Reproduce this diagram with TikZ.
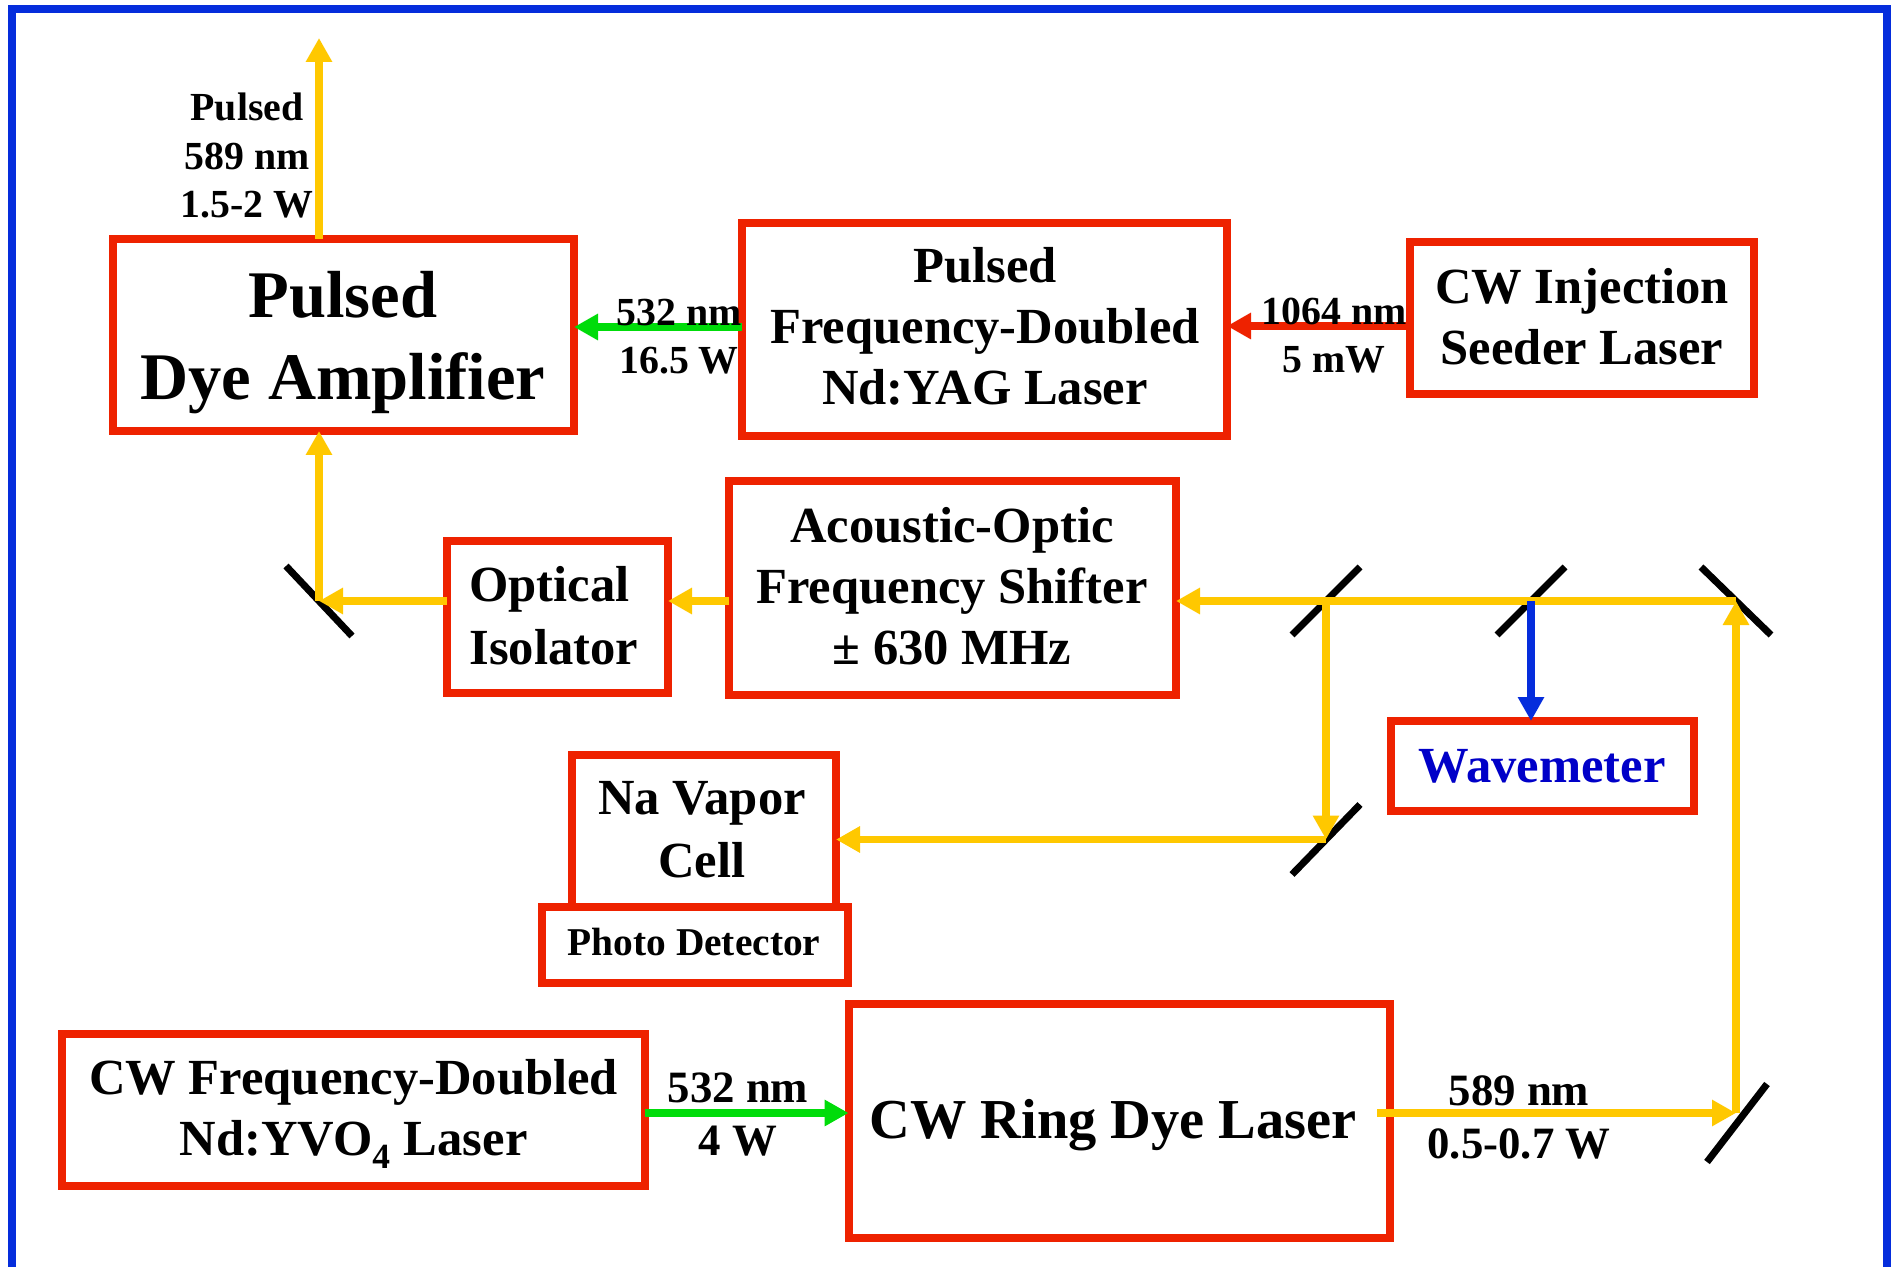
\documentclass[tikz,border=0pt]{standalone}
\usepackage{fontspec}
\setmainfont{Liberation Serif}
\usetikzlibrary{arrows.meta}
\definecolor{bxred}{RGB}{238,34,0}
\definecolor{bmyel}{RGB}{255,200,0}
\definecolor{bmgrn}{RGB}{0,220,10}
\definecolor{bdblue}{RGB}{5,45,220}
\definecolor{wmblue}{RGB}{0,0,200}
\begin{document}
\begin{tikzpicture}[x=0.5pt,y=-0.5pt,
  box/.style={draw=bxred, line width=4pt, inner sep=0pt, outer sep=0pt, rectangle},
  beam/.style={line width=3.75pt, -{Triangle[length=12pt,width=12.5pt]}},
  ya/.style={beam, bmyel},
  ga/.style={beam, bmgrn},
  ra/.style={beam, bxred},
  ba/.style={beam, bdblue},
  mirror/.style={line width=3.5pt, black},
  bt/.style={font=\fontsize{25.3}{30.5}\selectfont\bfseries, align=center, anchor=base, inner sep=0pt},
  lbl/.style={font=\fontsize{19.9}{24.1}\selectfont\bfseries, align=center, anchor=base, inner sep=0pt},
  lblb/.style={lbl, font=\fontsize{22.4}{26.2}\selectfont\bfseries},
]
\useasboundingbox (0,0) rectangle (1891,1267);
\fill[white] (0,0) rectangle (1891,1267);
\draw[bdblue, line width=4pt] (12,1290) -- (12,8.7) -- (1887,8.7) -- (1887,1290);

% boxes
\node[box, minimum width=230.5pt, minimum height=96pt] (pda) at (343.5,335) {};
\node[box, minimum width=242.5pt, minimum height=106.5pt] (yag) at (984.5,329.5) {};
\node[box, minimum width=172pt, minimum height=76pt] (seed) at (1582,318) {};
\node[box, minimum width=110.5pt, minimum height=75.75pt] (oi) at (557.5,616.75) {};
\node[box, minimum width=223.5pt, minimum height=106.5pt] (ao) at (952.5,588) {};
\node[box, minimum width=151.5pt, minimum height=45pt] (wm) at (1542.5,766) {};
\node[box, minimum width=132pt, minimum height=76pt] (na) at (704,830.5) {};
\node[box, minimum width=153.25pt, minimum height=38pt] (pd) at (694.75,944.5) {};
\node[box, minimum width=291.9pt, minimum height=76pt] (yvo) at (353.4,1110) {};
\node[box, minimum width=270.7pt, minimum height=116.75pt] (ring) at (1119.3,1120.75) {};

% box texts (anchor base = baseline of the last line)
\node[bt, font=\fontsize{33.3}{41}\selectfont\bfseries] (pdat) at (343,400) {Pulsed\\Dye Amplifier};
\node[bt] (yagt) at (985,405) {Pulsed\\Frequency-Doubled\\Nd:YAG Laser};
\node[bt] (seedt) at (1582,365) {CW Injection\\Seeder Laser};
\node[bt, align=left, anchor=base west, font=\fontsize{25.3}{31.2}\selectfont\bfseries] (oit) at (469,664) {Optical\\Isolator};
\node[bt] (aot) at (952,664) {Acoustic-Optic\\Frequency Shifter\\± 630 MHz};
\node[bt, text=wmblue] (wmt) at (1542,782) {Wavemeter};
\node[bt, font=\fontsize{25.3}{31.2}\selectfont\bfseries] (nat) at (702,877.3) {Na Vapor\\Cell};
\node[bt, font=\fontsize{19.7}{24}\selectfont\bfseries] (pdt) at (694,955) {Photo Detector};
\node[bt] (yvot) at (353.5,1155.7) {CW Frequency-Doubled\\Nd:YVO\raisebox{-0.25ex}{\textsubscript{4}} Laser};
\node[bt, font=\fontsize{28.2}{34}\selectfont\bfseries] (ringt) at (1113,1138.3) {CW Ring Dye Laser};

% mirrors
\coordinate (m1) at (319,601);
\coordinate (m2) at (1326,601);
\coordinate (m3) at (1531,601);
\coordinate (m4) at (1736,601);
\coordinate (m5) at (1326,839.5);
\coordinate (m6) at (1736,1113);
\draw[mirror] ([shift={(-33,-35)}]m1) -- ([shift={(33,35)}]m1);
\draw[mirror] ([shift={(-34,34)}]m2) -- ([shift={(34,-34)}]m2);
\draw[mirror] ([shift={(-34,34)}]m3) -- ([shift={(34,-34)}]m3);
\draw[mirror] ([shift={(-35,-34)}]m4) -- ([shift={(35,34)}]m4);
\draw[mirror] ([shift={(-34,35)}]m5) -- ([shift={(34,-35)}]m5);
\draw[mirror] ([shift={(-29,49)}]m6) -- ([shift={(31,-29)}]m6);

% beams
\coordinate (ytop) at (319,38);
\coordinate (g1) at (0,327);
\coordinate (r1) at (0,326);
\draw[ya] (pda.north -| ytop) -- (ytop);
\draw[ga] (yag.west |- g1) -- (pda.east |- g1);
\draw[ra] (seed.west |- r1) -- (yag.east |- r1);
\draw[ya] (m1) -- (pda.south -| m1);
\draw[ya] (oi.west |- m1) -- (m1);
\draw[ya] (ao.west |- m1) -- (oi.east |- m1);
\draw[ya] (m4) -- (ao.east |- m4);
\draw[ya] (m2) -- (m5);
\draw[ya] (m5) -- (na.east |- m5);
\draw[ba] (m3) -- (wm.north -| m3);
\draw[ya] (m6) -- (m4);
\draw[ya] ([xshift=-6.5pt]ring.east |- m6) -- (m6);
\draw[ga] (yvo.east |- m6) -- (ring.west |- m6);

% beam labels (anchor base = baseline of the last line)
\node[lbl] (l1) at (247,217.3) {Pulsed\\589 nm\\1.5-2 W};
\node[lbl] (l2) at (679,374) {532 nm\\16.5 W};
\node[lbl] (l3) at (1334,373) {1064 nm\\5 mW};
\node[lblb] (l4) at (738,1155) {532 nm\\4 W};
\node[lblb] (l5) at (1519,1158.3) {589 nm\\0.5-0.7 W};
\end{tikzpicture}
\end{document}
